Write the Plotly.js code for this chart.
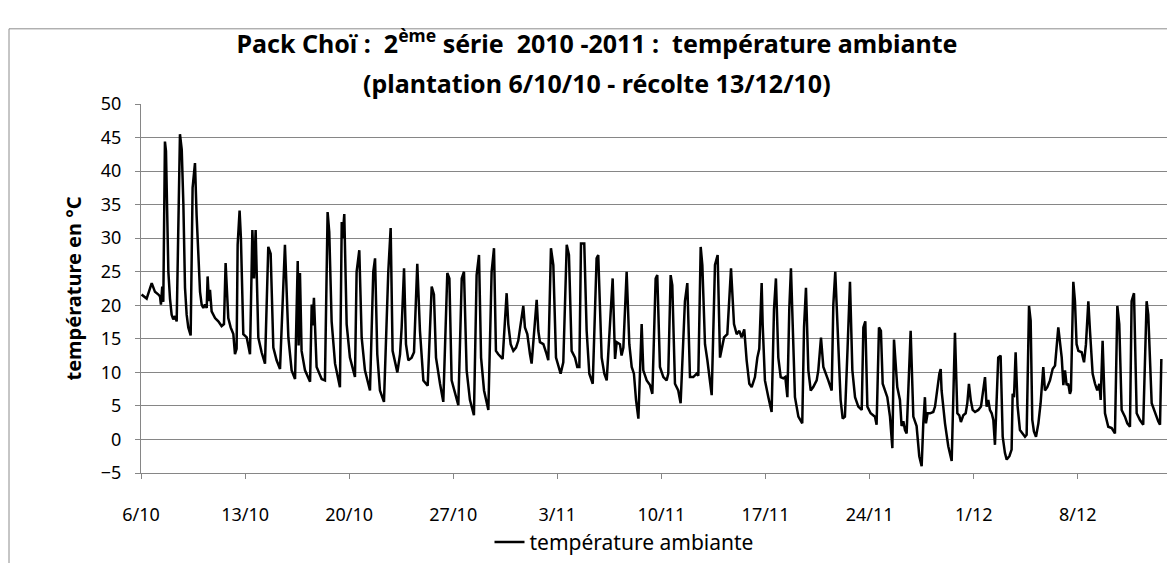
<!DOCTYPE html>
<html>
<head>
<meta charset="utf-8">
<script src="https://cdn.plot.ly/plotly-3.0.1.min.js"></script>
<style>html,body{margin:0;padding:0;background:#fff;}#chart{width:1167px;height:563px;}</style>
</head>
<body>
<div id="chart"></div>
<script>
const dayOffset = [
0.04,0.38,0.72,0.94,1.17,1.28,1.34,1.43,1.50,1.61,1.68,1.73,1.84,1.95,2.06,2.17,2.29,2.40,2.62,2.74,2.85,2.96,3.07,3.18,3.34,3.47,3.63,3.74,3.86,3.97,
4.08,4.19,4.30,4.42,4.48,4.57,4.64,4.75,4.98,5.20,5.42,5.58,5.69,5.78,5.87,6.03,6.21,6.32,6.43,6.50,6.63,6.72,6.88,7.11,7.33,7.49,7.60,7.71,7.89,8.11,
8.34,8.56,8.72,8.90,9.12,9.35,9.68,9.91,10.13,10.36,10.54,10.60,10.69,10.80,11.03,11.37,11.48,11.54,11.63,11.81,12.15,12.37,12.55,12.66,12.82,13.05,13.38,13.50,13.56,13.67,
13.83,14.05,14.39,14.50,14.68,14.84,15.06,15.40,15.62,15.74,15.89,16.07,16.34,16.63,16.79,16.92,17.08,17.24,17.42,17.53,17.69,17.82,17.98,18.20,18.36,18.58,18.76,18.99,19.28,19.55,
19.70,19.84,20.11,20.33,20.60,20.74,20.89,21.12,21.34,21.57,21.72,21.90,22.12,22.39,22.57,22.73,22.87,23.07,23.36,23.58,23.74,23.87,24.03,24.32,24.59,24.70,24.86,25.04,25.22,25.37,
25.71,25.82,25.98,26.16,26.27,26.61,26.72,26.83,27.06,27.24,27.39,27.57,27.73,27.91,28.07,28.22,28.40,28.63,28.78,28.96,29.19,29.34,29.48,29.59,29.81,29.97,30.15,30.38,30.64,30.75,
30.98,31.16,31.32,31.72,31.88,31.99,32.21,32.32,32.44,32.66,32.84,33.00,33.15,33.29,33.45,33.56,33.67,33.78,34.01,34.23,34.39,34.61,34.72,34.90,35.13,35.35,35.46,35.62,35.73,35.91,
36.13,36.29,36.58,36.74,36.92,37.14,37.37,37.48,37.64,37.75,37.93,38.09,38.27,38.38,38.60,38.78,38.94,39.05,39.21,39.43,39.68,39.88,40.06,40.24,40.39,40.57,40.73,40.91,41.07,41.29,
41.45,41.58,41.74,41.81,41.96,42.19,42.41,42.57,42.70,42.86,43.02,43.20,43.33,43.47,43.60,43.71,43.87,43.98,44.21,44.47,44.59,44.72,44.88,45.04,45.21,45.44,45.55,45.66,45.73,45.89,
46.07,46.22,46.45,46.56,46.69,46.90,47.05,47.19,47.34,47.52,47.68,47.84,48.02,48.24,48.47,48.58,48.71,48.85,49.07,49.36,49.47,49.63,49.76,49.88,50.03,50.19,50.37,50.53,50.64,50.71,
50.86,51.04,51.15,51.27,51.38,51.49,51.67,51.76,51.94,52.16,52.34,52.50,52.61,52.72,52.79,52.90,53.06,53.28,53.40,53.55,53.69,53.78,53.84,54.07,54.29,54.52,54.63,54.74,54.90,55.03,
55.14,55.30,55.46,55.57,55.68,55.80,55.93,56.09,56.31,56.49,56.76,56.87,56.98,57.09,57.21,57.32,57.43,57.54,57.65,57.81,57.95,58.10,58.22,58.40,58.55,58.62,58.71,58.82,58.95,59.11,
59.29,59.45,59.56,59.72,59.83,59.94,60.05,60.19,60.35,60.50,60.68,60.79,60.95,61.13,61.31,61.47,61.69,61.80,61.92,62.03,62.14,62.25,62.36,62.47,62.54,62.70,62.81,62.92,63.04,63.26,
63.42,63.55,63.71,63.82,64.00,64.16,64.31,64.45,64.54,64.67,64.83,65.05,65.28,65.50,65.66,65.79,65.95,66.17,66.33,66.51,66.62,66.78,66.96,67.18,67.40,67.63,67.74,67.97,68.19,68.41,
68.53,68.62
];
const temperature = [
21.6,21.0,23.3,22.0,21.6,21.3,20.1,22.8,20.5,44.4,43.0,35.0,25.0,21.0,18.6,17.9,18.4,17.6,45.5,43.2,35.0,22.6,18.6,16.7,15.5,37.5,41.2,33.4,27.5,22.0,
20.1,19.6,20.1,19.6,24.3,20.6,22.3,19.1,18.1,17.6,16.9,17.2,26.3,22.0,18.1,16.7,15.7,12.7,13.5,29.0,34.1,30.0,15.7,15.2,12.7,31.2,24.0,31.2,15.2,13.0,
11.3,28.7,27.7,13.7,11.8,10.5,29.0,15.2,10.3,9.0,26.6,14.0,24.8,13.2,10.3,8.6,20.1,17.0,21.1,10.8,9.0,8.8,33.9,30.9,17.6,11.3,7.8,32.4,30.0,33.6,
17.2,12.2,9.3,25.0,28.2,15.2,10.3,7.3,25.0,27.0,12.7,7.3,5.6,25.0,31.5,13.2,11.5,10.0,12.7,16.7,25.5,14.2,11.8,12.2,13.0,26.2,16.2,8.8,8.0,22.8,
21.6,12.2,8.3,5.6,24.8,24.0,8.8,6.8,5.1,24.0,25.0,10.3,5.9,3.6,24.5,27.5,12.2,7.3,4.4,25.0,28.5,13.2,12.7,12.0,21.8,17.2,14.2,13.2,13.7,14.7,
19.9,16.7,15.7,12.7,11.3,20.8,16.2,14.5,14.2,13.0,11.8,28.5,26.0,12.2,11.0,9.8,11.5,29.0,27.5,13.2,12.2,10.8,10.8,29.2,29.2,16.2,9.8,8.3,27.0,27.5,
12.2,9.8,8.8,24.0,12.0,14.5,14.2,12.5,13.7,25.0,14.2,10.8,9.8,5.9,3.1,12.2,17.2,10.3,8.8,8.1,6.8,24.0,24.5,10.8,9.3,8.8,9.8,24.5,23.0,8.3,
7.3,5.4,20.6,23.3,9.3,9.3,9.8,9.5,28.7,26.0,14.2,11.8,8.8,6.6,26.0,27.5,12.2,13.7,15.2,15.7,25.5,17.2,15.7,16.2,15.2,16.4,11.8,8.3,7.8,9.3,
12.2,13.5,23.3,17.0,8.8,6.3,4.1,19.4,24.0,12.2,9.3,9.1,9.3,6.3,19.6,25.5,12.0,6.3,3.4,2.4,16.7,22.6,10.3,7.3,7.8,8.8,10.3,13.7,15.2,10.8,
9.8,8.8,7.3,20.1,25.0,12.7,5.9,3.1,3.4,13.7,23.5,10.3,6.3,4.9,4.4,16.7,17.6,4.9,3.9,3.4,2.2,16.7,16.2,8.3,7.3,6.3,3.4,-1.3,14.9,12.2,
7.8,5.9,2.0,2.7,1.4,0.9,12.7,16.2,3.4,2.0,-2.5,-4.0,2.4,6.3,2.4,3.9,3.9,4.1,4.9,7.8,9.8,10.5,7.3,2.4,-1.0,-3.2,8.3,15.9,3.9,3.6,
2.6,3.6,3.9,5.4,8.3,5.9,4.4,4.1,4.4,4.9,9.3,4.9,5.9,4.4,3.9,2.9,-0.8,4.9,12.2,12.5,0.4,-2.0,-3.0,-2.5,-1.5,6.8,6.3,13.0,5.0,1.4,
0.9,0.4,0.7,19.9,17.7,2.9,1.2,0.4,2.4,5.4,10.8,7.3,7.8,8.8,10.5,11.0,16.7,14.2,12.2,8.1,10.3,8.1,8.3,6.8,7.3,23.5,20.6,14.2,13.2,13.0,
11.5,14.2,20.6,16.2,9.8,8.3,7.3,8.3,5.9,14.7,3.9,1.9,1.7,0.9,19.9,17.2,4.4,3.4,2.4,1.9,20.6,21.8,3.9,2.9,2.2,20.6,18.6,5.4,3.9,2.7,
2.2,12.0
];
const tickDates = ['2010-10-06','2010-10-13','2010-10-20','2010-10-27','2010-11-03','2010-11-10','2010-11-17','2010-11-24','2010-12-01','2010-12-08'];
const tickLabels = ['6/10','13/10','20/10','27/10','3/11','10/11','17/11','24/11','1/12','8/12'];
const xStart = '2010-10-06';
const xEnd = '2010-12-14';
const seriesName = 'température ambiante';

const t0 = Date.UTC(2010, 9, 6);
const xDates = dayOffset.map(d => new Date(t0 + d * 86400000).toISOString().replace('T', ' ').slice(0, 19));

const FONT = '"Noto Sans", "Open Sans", sans-serif';
const GRID = '#868686';
const nb = '\u00a0';

const trace = {
  x: xDates,
  y: temperature,
  type: 'scatter',
  mode: 'lines',
  name: seriesName,
  line: {color: '#000000', width: 2.5}
};

const layout = {
  width: 1167,
  height: 563,
  margin: {l: 141, r: 0, t: 104, b: 86, pad: 0},
  paper_bgcolor: '#ffffff',
  plot_bgcolor: '#ffffff',
  font: {family: FONT, color: '#000000'},
  title: {
    text: '<b>Pack Choï :' + nb + ' 2<sup>ème</sup> série' + nb + ' 2010 -2011 :' + nb + ' température ambiante</b>',
    font: {family: FONT, size: 25, color: '#000000'},
    x: 597 / 1167, xref: 'container', xanchor: 'center',
    y: 1 - 44 / 563, yref: 'container', yanchor: 'middle'
  },
  annotations: [{
    text: '<b>(plantation 6/10/10 - récolte 13/12/10)</b>',
    xref: 'paper', yref: 'paper',
    x: (597 - 141) / 1026, y: (477 - 83) / 373,
    xanchor: 'center', yanchor: 'middle', showarrow: false,
    font: {family: FONT, size: 25, color: '#000000'}
  }],
  xaxis: {
    type: 'date',
    range: [xStart, xEnd],
    tickmode: 'array',
    tickvals: tickDates,
    ticktext: tickLabels,
    ticks: 'outside', ticklen: 5, tickcolor: GRID, tickwidth: 1,
    showline: true, linecolor: GRID, linewidth: 1,
    showgrid: false, zeroline: false,
    tickfont: {family: FONT, size: 18, color: '#000000'},
    ticklabelstandoff: 20
  },
  yaxis: {
    range: [-5, 50],
    dtick: 5, tick0: 0,
    ticks: 'outside', ticklen: 5, tickcolor: GRID, tickwidth: 1,
    showline: true, linecolor: GRID, linewidth: 1,
    showgrid: true, gridcolor: GRID, gridwidth: 1,
    zeroline: false,
    tickfont: {family: FONT, size: 18, color: '#000000'},
    ticklabelstandoff: 10,
    title: {text: '<b>température en °C</b>', font: {family: FONT, size: 20, color: '#000000'}, standoff: 13}
  },
  showlegend: true,
  legend: {
    orientation: 'h',
    x: (624 - 141) / 1026, xanchor: 'center',
    y: (477 - 547) / 373, yanchor: 'middle',
    font: {family: FONT, size: 21, color: '#000000'},
    bgcolor: 'rgba(0,0,0,0)'
  },
  shapes: [{
    type: 'rect', xref: 'paper', yref: 'paper',
    x0: (9 - 141) / 1026, x1: 1.2,
    y0: (477 - 620) / 373, y1: (477 - 28) / 373,
    line: {color: '#8c8c8c', width: 1}, fillcolor: 'rgba(0,0,0,0)', layer: 'below'
  }]
};

Plotly.newPlot('chart', [trace], layout, {displayModeBar: false, staticPlot: true});
</script>
</body>
</html>
